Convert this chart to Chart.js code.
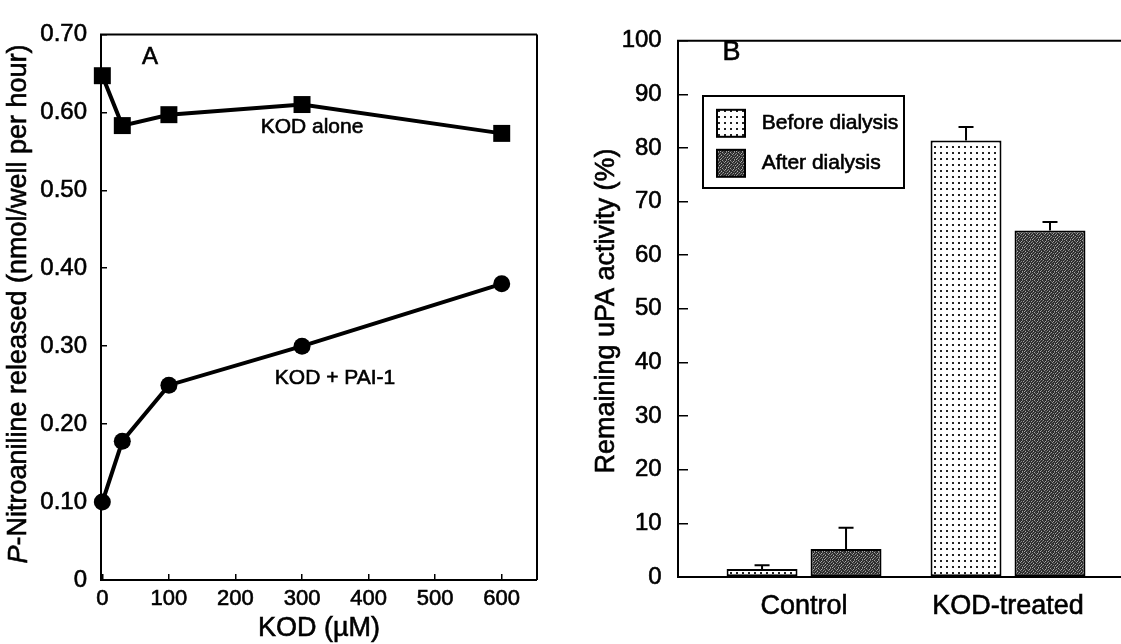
<!DOCTYPE html>
<html><head><meta charset="utf-8">
<script src="https://cdn.jsdelivr.net/npm/chart.js@4.4.1/dist/chart.umd.min.js"></script>
<style>
html,body{margin:0;padding:0;background:#fff;overflow:hidden;width:1121px;height:644px}
canvas{position:absolute;top:0}
#a{left:0}
#b{left:560px}
</style></head>
<body>
<canvas id="a" width="560" height="644"></canvas>
<canvas id="b" width="561" height="644"></canvas>
<script>
// ---------- Panel A data ----------
const kodConc = [0, 30, 100, 300, 600];
const kodAlone = [0.647, 0.583, 0.597, 0.610, 0.573];
const kodPai1 = [0.100, 0.178, 0.250, 0.300, 0.380];
const yTickValuesA = [0, 0.1, 0.2, 0.3, 0.4, 0.5, 0.6, 0.7];
const yTickLabelsA = ['0', '0.10', '0.20', '0.30', '0.40', '0.50', '0.60', '0.70'];
const xTickValuesA = [0, 100, 200, 300, 400, 500, 600];
const xTickLabelsA = ['0', '100', '200', '300', '400', '500', '600'];

// ---------- Panel B data ----------
const groups = ['Control', 'KOD-treated'];
const beforeDialysis = [1.5, 81.4];
const beforeErr = [0.7, 2.5];
const afterDialysis = [5.2, 64.6];
const afterErr = [4.0, 1.6];
const yTickValuesB = [0, 10, 20, 30, 40, 50, 60, 70, 80, 90, 100];
const yTickLabelsB = ['0', '10', '20', '30', '40', '50', '60', '70', '80', '90', '100'];

const FONT = "'Liberation Sans', Arial, Helvetica, sans-serif";
const INK = 0.6; // slight stroke to mimic the heavy print
Chart.defaults.font.family = FONT;
Chart.defaults.color = '#000';

// textures for bars
function dotPattern(ctx) {
  const c = document.createElement('canvas'); c.width = 6; c.height = 6;
  const g = c.getContext('2d');
  g.fillStyle = '#fff'; g.fillRect(0, 0, 6, 6);
  g.fillStyle = '#222'; g.fillRect(2, 2, 2, 2);
  return ctx.createPattern(c, 'repeat');
}
const stippleTexture = [
  40, 52, 165, 44, 60, 36, 120, 48,
  130, 36, 56, 104, 40, 175, 44, 60,
  48, 78, 40, 52, 148, 48, 40, 140,
  36, 182, 48, 40, 52, 78, 112, 40,
  112, 44, 60, 156, 36, 48, 52, 44,
  52, 40, 120, 44, 56, 140, 40, 165,
  44, 150, 40, 52, 104, 40, 60, 48,
  175, 48, 52, 82, 40, 44, 160, 36
];
function darkPattern(ctx) {
  const c = document.createElement('canvas'); c.width = 8; c.height = 8;
  const g = c.getContext('2d');
  const img = g.createImageData(8, 8);
  for (let i = 0; i < 64; i++) {
    img.data[i*4] = img.data[i*4+1] = img.data[i*4+2] = stippleTexture[i];
    img.data[i*4+3] = 255;
  }
  g.putImageData(img, 0, 0);
  return ctx.createPattern(c, 'repeat');
}

function inkText(ctx, text, x, y) {
  ctx.fillText(text, x, y);
  ctx.lineWidth = INK;
  ctx.strokeStyle = '#000';
  ctx.strokeText(text, x, y);
}

// plugin: rotated y title with optional italic runs
const yTitlePlugin = {
  id: 'yTitle',
  afterDraw(chart, args, opts) {
    const ctx = chart.ctx;
    ctx.save();
    ctx.fillStyle = '#000';
    ctx.textBaseline = 'middle';
    ctx.textAlign = 'left';
    const fonts = opts.runs.map(r => (r.italic ? 'italic ' : '') + opts.size + 'px ' + FONT);
    let total = 0;
    const widths = opts.runs.map((r, i) => { ctx.font = fonts[i]; const w = ctx.measureText(r.text).width; total += w; return w; });
    ctx.translate(opts.x, opts.y);
    ctx.rotate(-Math.PI / 2);
    let x = -total / 2;
    opts.runs.forEach((r, i) => { ctx.font = fonts[i]; inkText(ctx, r.text, x, 0); x += widths[i]; });
    ctx.restore();
  }
};

// plugin: annotation texts
const notesPlugin = {
  id: 'notes',
  afterDraw(chart, args, opts) {
    const ctx = chart.ctx;
    ctx.save();
    ctx.fillStyle = '#000';
    ctx.textAlign = 'center';
    ctx.textBaseline = 'middle';
    opts.items.forEach(it => { ctx.font = it.size + 'px ' + FONT; inkText(ctx, it.text, it.x, it.y); });
    ctx.restore();
  }
};

// plugin: frame lines
const framePlugin = {
  id: 'frame',
  beforeDatasetsDraw(chart, args, opts) {
    const {ctx, chartArea: a} = chart;
    ctx.save();
    ctx.strokeStyle = '#000';
    ctx.lineWidth = 2;
    ctx.beginPath();
    if (opts.sides.includes('top')) { ctx.moveTo(a.left - 1, a.top); ctx.lineTo(a.right, a.top); }
    if (opts.sides.includes('right')) { ctx.moveTo(a.right, a.top); ctx.lineTo(a.right, a.bottom); }
    if (opts.sides.includes('bottom')) { ctx.moveTo(a.left - 1, a.bottom); ctx.lineTo(a.right, a.bottom); }
    if (opts.sides.includes('left')) { ctx.moveTo(a.left, a.top); ctx.lineTo(a.left, a.bottom + 1); }
    ctx.stroke();
    ctx.restore();
  }
};

const tickFont = size => ({font: {size: size}, color: '#000', textStrokeColor: '#000', textStrokeWidth: INK});

// ---------- Chart A ----------
new Chart(document.getElementById('a'), {
  type: 'line',
  data: {
    datasets: [
      {
        label: 'KOD alone',
        data: kodConc.map((x, i) => ({x: x, y: kodAlone[i]})),
        borderColor: '#000', backgroundColor: '#000', borderWidth: 4,
        pointStyle: 'rect', pointRadius: 12, pointBorderWidth: 0,
        pointBackgroundColor: '#000', tension: 0, clip: false
      },
      {
        label: 'KOD + PAI-1',
        data: kodConc.map((x, i) => ({x: x, y: kodPai1[i]})),
        borderColor: '#000', backgroundColor: '#000', borderWidth: 4,
        pointStyle: 'circle', pointRadius: 8.5, pointBorderWidth: 0,
        pointBackgroundColor: '#000', tension: 0, clip: false
      }
    ]
  },
  options: {
    responsive: false, animation: false, devicePixelRatio: 1,
    layout: {padding: {top: 20, right: 23, left: 0, bottom: 0}},
    plugins: {
      legend: {display: false}, tooltip: {enabled: false},
      frame: {sides: ['top', 'right', 'bottom', 'left']},
      yTitle: {x: 19, y: 304, size: 27, runs: [{text: 'P', italic: true}, {text: '-Nitroaniline released (nmol/well per hour)'}]},
      notes: {items: [
        {text: 'A', x: 150, y: 57, size: 24},
        {text: 'KOD alone', x: 312, y: 127, size: 21},
        {text: 'KOD + PAI-1', x: 335, y: 378, size: 21},
        {text: 'KOD (µM)', x: 319, y: 629, size: 27}
      ]}
    },
    scales: {
      x: {
        type: 'linear', min: -2, max: 653,
        afterBuildTicks: s => { s.ticks = xTickValuesA.map(v => ({value: v})); },
        afterFit: s => { s.height = 64; },
        ticks: Object.assign({callback: (v, i) => xTickLabelsA[i], padding: 12, autoSkip: false, maxRotation: 0}, tickFont(22)),
        grid: {drawOnChartArea: false, tickLength: -6, color: '#000', lineWidth: 1.5},
        border: {display: false}
      },
      y: {
        type: 'linear', min: 0, max: 0.7,
        afterBuildTicks: s => { s.ticks = yTickValuesA.map(v => ({value: v})); },
        afterFit: s => { s.width = 101; },
        ticks: Object.assign({callback: (v, i) => yTickLabelsA[i], padding: 20, autoSkip: false}, tickFont(24)),
        grid: {drawOnChartArea: false, tickLength: -6, color: '#000', lineWidth: 1.5},
        border: {display: false}
      }
    }
  },
  plugins: [framePlugin, yTitlePlugin, notesPlugin]
});

// ---------- Chart B ----------
const ctxB = document.getElementById('b').getContext('2d');
const patBefore = dotPattern(ctxB);
const patAfter = darkPattern(ctxB);

const errorBarPlugin = {
  id: 'errorBars',
  afterDatasetsDraw(chart) {
    const ctx = chart.ctx, ys = chart.scales.y;
    ctx.save();
    ctx.strokeStyle = '#000';
    ctx.lineWidth = 2;
    chart.data.datasets.forEach((ds, di) => {
      const meta = chart.getDatasetMeta(di);
      meta.data.forEach((bar, i) => {
        const top = ys.getPixelForValue(ds.data[i].y + ds.errors[i]);
        ctx.beginPath();
        ctx.moveTo(bar.x, bar.y); ctx.lineTo(bar.x, top);
        ctx.moveTo(bar.x - 7.5, top); ctx.lineTo(bar.x + 7.5, top);
        ctx.stroke();
      });
    });
    ctx.restore();
  }
};

const boxLegendPlugin = {
  id: 'boxLegend',
  afterDraw(chart, args, opts) {
    const ctx = chart.ctx;
    ctx.save();
    ctx.strokeStyle = '#000';
    ctx.lineWidth = 2;
    ctx.fillStyle = '#fff';
    ctx.fillRect(opts.x, opts.y, opts.w, opts.h);
    ctx.strokeRect(opts.x, opts.y, opts.w, opts.h);
    chart.data.datasets.forEach((ds, i) => {
      const cy = opts.rowY[i];
      ctx.fillStyle = ds.backgroundColor;
      ctx.lineWidth = 2;
      ctx.fillRect(opts.swX, cy - opts.swH / 2, opts.swW, opts.swH);
      ctx.strokeRect(opts.swX, cy - opts.swH / 2, opts.swW, opts.swH);
      ctx.fillStyle = '#000';
      ctx.font = opts.size + 'px ' + FONT;
      ctx.textAlign = 'left';
      ctx.textBaseline = 'middle';
      inkText(ctx, ds.label, opts.textX, cy);
    });
    ctx.restore();
  }
};

new Chart(ctxB, {
  type: 'bar',
  data: {
    datasets: [
      {
        label: 'Before dialysis',
        data: groups.map((g, i) => ({x: i + 1, y: beforeDialysis[i]})),
        errors: beforeErr,
        backgroundColor: patBefore, borderColor: '#000', borderWidth: 2, borderSkipped: false,
        categoryPercentage: 0.8235, barPercentage: 0.845
      },
      {
        label: 'After dialysis',
        data: groups.map((g, i) => ({x: i + 1, y: afterDialysis[i]})),
        errors: afterErr,
        backgroundColor: patAfter, borderColor: '#000', borderWidth: 2, borderSkipped: false,
        categoryPercentage: 0.8235, barPercentage: 0.845
      }
    ]
  },
  options: {
    responsive: false, animation: false, devicePixelRatio: 1,
    layout: {padding: {top: 20, right: 0, left: 0, bottom: 0}},
    plugins: {
      legend: {display: false}, tooltip: {enabled: false},
      frame: {sides: ['top', 'bottom', 'left']},
      yTitle: {x: 46.5, y: 311, size: 27, runs: [{text: 'Remaining uPA activity (%)'}]},
      notes: {items: [{text: 'B', x: 171.5, y: 53, size: 27}]},
      boxLegend: {x: 143, y: 96, w: 201, h: 92, swX: 157, swW: 28, swH: 27, rowY: [123.3, 163.3], textX: 201.7, size: 21}
    },
    scales: {
      x: {
        type: 'linear', min: 0.382, max: 2.554, offset: false,
        afterBuildTicks: s => { s.ticks = groups.map((g, i) => ({value: i + 1})); },
        afterFit: s => { s.height = 67; },
        ticks: Object.assign({callback: (v, i) => groups[i], padding: 13.5, autoSkip: false, maxRotation: 0}, tickFont(27)),
        grid: {display: false, drawTicks: false, offset: false},
        border: {display: false}
      },
      y: {
        type: 'linear', min: 0, max: 100,
        afterBuildTicks: s => { s.ticks = yTickValuesB.map(v => ({value: v})); },
        afterFit: s => { s.width = 118; },
        ticks: Object.assign({callback: (v, i) => yTickLabelsB[i], padding: 26.3, autoSkip: false}, tickFont(24)),
        grid: {drawOnChartArea: false, tickLength: -10, color: '#000', lineWidth: 1.5},
        border: {display: false}
      }
    }
  },
  plugins: [framePlugin, errorBarPlugin, boxLegendPlugin, yTitlePlugin, notesPlugin]
});
</script>
</body></html>
